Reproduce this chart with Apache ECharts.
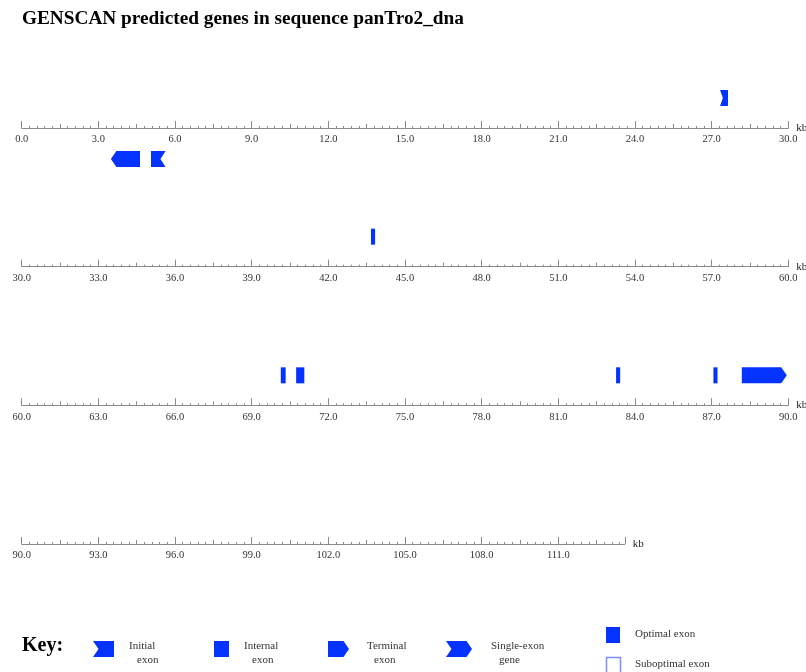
<!DOCTYPE html>
<html>
<head>
<meta charset="utf-8">
<script src="https://cdn.jsdelivr.net/npm/echarts@6/dist/echarts.min.js"></script>
<style>
html,body{margin:0;padding:0;background:#fff;}
#main{width:806px;height:672px;}
</style>
</head>
<body>
<div id="main"></div>
<script>
// ---- data ----
const titleText = 'GENSCAN predicted genes in sequence panTro2_dna';
const rowStarts = [0, 30, 60, 90];
const rowEnds = [30, 60, 90, 113.6];
const featStart = [27.33, 3.49, 5.06, 43.67, 70.14, 70.74, 83.26, 87.07, 88.18];
const featEnd   = [27.64, 4.63, 5.63, 43.83, 70.33, 71.06, 83.42, 87.23, 89.94];
const featStrand = ['+', '-', '-', '+', '+', '+', '+', '+', '+'];
const featType = ['Initial', 'Terminal', 'Initial', 'Internal', 'Internal', 'Internal', 'Internal', 'Internal', 'Terminal'];
const keyTypes = ['Initial', 'Internal', 'Terminal', 'Single'];
const keyLabels = [['Initial', 'exon'], ['Internal', 'exon'], ['Terminal', 'exon'], ['Single-exon', 'gene']];
const keyOptLabels = ['Optimal exon', 'Suboptimal exon'];
const axisUnit = 'kb';

// ---- layout ----
const BLUE = '#0433ff';
const SERIF = "'Liberation Serif', 'DejaVu Serif', serif";
const LEFT = 21.7;
const PX_PER_KB = 25.553;
const ROW0_Y = 128;
const ROW_STEP = 138.67;
const typeIndex = {Initial: 0, Internal: 1, Terminal: 2, Single: 3};

function shapePoints(x0, x1, top, bot, typeIdx, strand) {
  const mid = (top + bot) / 2;
  const w = x1 - x0;
  const d = Math.min(5.5, w * 0.35);
  const isInit = typeIdx === 0 || typeIdx === 3;
  const isTerm = typeIdx === 2 || typeIdx === 3;
  let leftNotch = false, leftPoint = false, rightNotch = false, rightPoint = false;
  if (strand > 0) { leftNotch = isInit; rightPoint = isTerm; }
  else { rightNotch = isInit; leftPoint = isTerm; }
  const pts = [];
  pts.push([leftPoint ? x0 + d : x0, top]);
  pts.push([rightPoint ? x1 - d : x1, top]);
  if (rightPoint) pts.push([x1, mid]);
  if (rightNotch) pts.push([x1 - d, mid]);
  pts.push([rightPoint ? x1 - d : x1, bot]);
  pts.push([leftPoint ? x0 + d : x0, bot]);
  if (leftPoint) pts.push([x0, mid]);
  if (leftNotch) pts.push([x0 + d, mid]);
  return pts;
}

function renderFeature(params, api) {
  const s = api.value(0), e = api.value(1), strand = api.value(2), t = api.value(3);
  const p0 = api.coord([s, 0]);
  const p1 = api.coord([e, 0]);
  const ay = p0[1];
  let top, bot;
  if (strand > 0) { top = ay - 38; bot = ay - 22; }
  else { top = ay + 23; bot = ay + 39; }
  return {
    type: 'polygon',
    shape: {points: shapePoints(p0[0], p1[0], top, bot, t, strand)},
    style: {fill: BLUE, stroke: null}
  };
}

const grids = [], xAxes = [], yAxes = [], series = [];
rowStarts.forEach((rs, r) => {
  const re = rowEnds[r];
  const ay = ROW0_Y + r * ROW_STEP;
  const width = (re - rs) * PX_PER_KB;
  const g = {left: LEFT, top: ay - 50, width: width, height: 50,
    containLabel: false, outerBoundsMode: 'none'};
  grids.push(Object.assign({}, g));
  grids.push(Object.assign({}, g));
  const gi = r * 2;
  xAxes.push({
    gridIndex: gi, type: 'value', min: rs, max: re, interval: 3, position: 'bottom',
    axisLine: {show: true, onZero: false, lineStyle: {color: '#8a8a8a', width: 1}},
    axisTick: {show: true, inside: true, length: 7, lineStyle: {color: '#8a8a8a', width: 1}},
    minorTick: {show: false},
    splitLine: {show: false},
    axisLabel: {
      show: true, margin: 6, color: '#333', fontFamily: SERIF, fontSize: 10.5,
      showMinLabel: true, showMaxLabel: true, hideOverlap: false,
      formatter: v => (Math.abs(v / 3 - Math.round(v / 3)) < 1e-6) ? v.toFixed(1) : ''
    },
    name: axisUnit, nameLocation: 'end', nameGap: 8,
    nameTextStyle: {color: '#222', fontFamily: SERIF, fontSize: 11, padding: [0, 0, 4, 0]}
  });
  yAxes.push({gridIndex: gi, type: 'value', min: 0, max: 50, show: false});
  xAxes.push({
    gridIndex: gi + 1, type: 'value', min: rs, max: re, interval: 1.5, position: 'bottom',
    axisLine: {show: false, onZero: false},
    axisTick: {show: true, inside: true, length: 4, lineStyle: {color: '#8a8a8a', width: 1}},
    minorTick: {show: true, splitNumber: 5, length: 2, lineStyle: {color: '#8a8a8a', width: 1}},
    splitLine: {show: false},
    axisLabel: {show: false}
  });
  yAxes.push({gridIndex: gi + 1, type: 'value', min: 0, max: 50, show: false});

  const data = [];
  featStart.forEach((s, i) => {
    if (s >= rs && s < re) {
      data.push([s, featEnd[i], featStrand[i] === '+' ? 1 : -1, typeIndex[featType[i]]]);
    }
  });
  series.push({
    type: 'custom', xAxisIndex: gi, yAxisIndex: gi,
    renderItem: renderFeature, data: data, encode: {x: [0, 1]}, clip: false, silent: true
  });
});

// ---- key (legend) ----
const graphics = [];
graphics.push({type: 'text', left: 22, top: 636,
  style: {text: 'Key:', fill: '#000', font: 'bold 20px ' + SERIF}});
const keyX = [[93, 114], [214, 229], [328, 349], [446, 472]];
const keyTextX = [[129, 137], [244, 252], [367, 374], [491, 499]];
keyTypes.forEach((t, i) => {
  graphics.push({type: 'polygon', shape: {points: shapePoints(keyX[i][0], keyX[i][1], 641, 657, typeIndex[t], 1)},
    style: {fill: BLUE}});
  graphics.push({type: 'text', x: keyTextX[i][0], y: 646,
    style: {text: keyLabels[i][0], fill: '#333', font: '11px ' + SERIF, verticalAlign: 'middle'}});
  graphics.push({type: 'text', x: keyTextX[i][1], y: 660,
    style: {text: keyLabels[i][1], fill: '#333', font: '11px ' + SERIF, verticalAlign: 'middle'}});
});
graphics.push({type: 'rect', shape: {x: 606, y: 627, width: 14, height: 16}, style: {fill: BLUE}});
graphics.push({type: 'rect', shape: {x: 606.5, y: 657.5, width: 14, height: 16},
  style: {fill: 'none', stroke: '#7d8cff', lineWidth: 1.5}});
graphics.push({type: 'text', x: 635, y: 634,
  style: {text: keyOptLabels[0], fill: '#333', font: '11px ' + SERIF, verticalAlign: 'middle'}});
graphics.push({type: 'text', x: 635, y: 664,
  style: {text: keyOptLabels[1], fill: '#333', font: '11px ' + SERIF, verticalAlign: 'middle'}});

const chart = echarts.init(document.getElementById('main'), null, {renderer: 'canvas'});
chart.setOption({
  animation: false,
  backgroundColor: '#fff',
  title: {text: titleText, left: 22, top: 10, padding: 0,
    textStyle: {fontFamily: SERIF, fontSize: 19.3, fontWeight: 'bold', color: '#000'}},
  grid: grids,
  xAxis: xAxes,
  yAxis: yAxes,
  series: series,
  graphic: graphics
});
</script>
</body>
</html>
